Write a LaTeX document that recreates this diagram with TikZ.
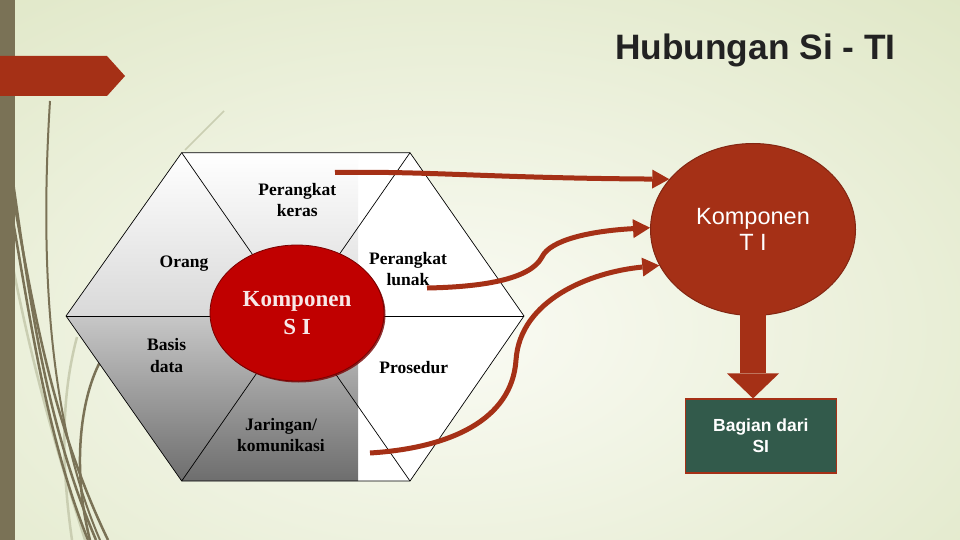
\documentclass[tikz,border=0pt]{standalone}
\usepackage{fontspec}
\setmainfont{Liberation Serif}
\setsansfont{Liberation Sans}
\usetikzlibrary{shapes.geometric,arrows.meta,shadows}
\definecolor{bgin}{RGB}{250,251,244}
\definecolor{bgout}{RGB}{222,230,196}
\definecolor{barbrown}{RGB}{122,114,86}
\definecolor{rust}{RGB}{165,48,22}
\definecolor{rustdark}{RGB}{130,38,18}
\definecolor{sired}{RGB}{192,0,0}
\definecolor{sidark}{RGB}{120,0,0}
\definecolor{sitext}{RGB}{247,232,232}
\definecolor{boxgreen}{RGB}{50,90,75}
\definecolor{titlegray}{RGB}{34,34,34}
\definecolor{lightstrand}{RGB}{202,206,178}
\begin{document}
\begin{tikzpicture}[x=1pt,y=-1pt,
  hexlabel/.style={font=\fontsize{17.5}{21.5}\selectfont\bfseries, align=center, anchor=base, inner sep=0pt},
  hexline/.style={draw=black, line width=0.7pt},
  connector/.style={draw=rust, line width=5pt, -{Triangle[length=17pt,width=19pt,line width=0pt]}},
  strand/.style={draw=barbrown, line width=2.5pt},
  lstrand/.style={draw=lightstrand, line width=2.5pt}]
\useasboundingbox (0,0) rectangle (960,540);
% background
\fill[bgout] (0,0) rectangle (960,540);
\begin{scope}
  \clip (0,0) rectangle (960,540);
  \shade[inner color=bgin, outer color=bgout] (-350,-150) rectangle (1250,810);
\end{scope}
% decorative strands
\draw[lstrand] (12,262) .. controls (35,380) and (60,460) .. (85,540);
\draw[lstrand] (77,337) .. controls (60,400) and (62,470) .. (72,540);
\draw[lightstrand, line width=1.5pt] (185,150) -- (224,111);
\draw[barbrown, line width=2pt] (50,101) .. controls (40,260) and (48,420) .. (100,540);
\draw[strand] (12,175) .. controls (30,300) and (45,420) .. (96,540);
\draw[strand] (12,190) .. controls (35,320) and (55,430) .. (108,540);
\draw[strand] (12,215) .. controls (32,330) and (48,440) .. (88,540);
\draw[strand] (100,362) .. controls (80,400) and (72,470) .. (90,540);
% left bar and banner
\fill[barbrown] (0,0) rectangle (15,540);
\fill[rust] (0,56) -- (107,56) -- (125,76) -- (107,96) -- (0,96) -- cycle;
% title
\node[font=\sffamily\bfseries\fontsize{35.3}{40}\selectfont, text=titlegray, anchor=base west, inner sep=0pt] (title) at (615,60) {Hubungan Si - TI};
% hexagon
\coordinate (hTL) at (181.7,152.7);
\coordinate (hTR) at (410,152.7);
\coordinate (hR) at (524,316);
\coordinate (hBR) at (410,481);
\coordinate (hBL) at (181.7,481);
\coordinate (hL) at (66,316);
\begin{scope}
  \clip (hTL) -- (hTR) -- (hR) -- (hBR) -- (hBL) -- (hL) -- cycle;
  \fill[white] (60,150) rectangle (530,485);
  \shade[top color=white, bottom color=black!15] (60,152.7) rectangle (358,316);
  \shade[top color=black!22, bottom color=black!57] (60,316) rectangle (358,481);
\end{scope}
\draw[hexline] (hTL) -- (hTR) -- (hR) -- (hBR) -- (hBL) -- (hL) -- cycle;
\draw[hexline] (hL) -- (hR);
\draw[hexline] (hTL) -- (hBR);
\draw[hexline] (hTR) -- (hBL);
% hexagon labels (base anchor = baseline of the last line)
\node[hexlabel] (hk) at (297.3,216.5) {Perangkat\\keras};
\node[hexlabel] (or) at (184,267.7) {Orang};
\node[hexlabel] (pl) at (408,285.8) {Perangkat\\lunak};
\node[hexlabel] (bd) at (166.7,372.2) {Basis\\data};
\node[hexlabel] (pr) at (413.7,373.3) {Prosedur};
\node[hexlabel] (jk) at (281,451.5) {Jaringan/\\komunikasi};
% central ellipse
\node[ellipse, fill=sired, draw=sidark, line width=0.8pt, minimum width=174pt, minimum height=136pt, inner sep=0pt,
      text=sitext, font=\fontsize{23}{28}\selectfont\bfseries, align=center,
      drop shadow={shadow xshift=1.5pt, shadow yshift=-1.5pt, fill=sidark, opacity=0.8}] (si) at (297,313) {Komponen\\S I};
% TI ellipse
\node[ellipse, fill=rust, draw=rustdark, line width=1pt, minimum width=205pt, minimum height=172pt, inner sep=0pt,
      text=white, font=\sffamily\fontsize{23.5}{26.7}\selectfont, align=center] (ti) at (753,229.5) {Komponen\\T I};
% green box
\node[draw=rust, line width=1.5pt, fill=boxgreen, minimum width=151pt, minimum height=74pt, inner sep=0pt,
      text=white, font=\sffamily\bfseries\fontsize{17.5}{21}\selectfont, align=center] (box) at (760.8,436.2) {Bagian dari\\SI};
% down arrow
\draw[rust, line width=26pt, shorten <=-2pt, -{Triangle[length=25pt,width=52pt,line width=0pt]}] (ti.south) -- (ti.south |- box.north);
% connectors
\coordinate (c1) at (335,172.5);
\coordinate (c2) at (427,288);
\coordinate (c3) at (370,453);
\draw[connector] (c1) .. controls (430,171) and (490,178) .. (ti.149);
\draw[connector] (c2) .. controls (480,287) and (530,280) .. (542,257) .. controls (550,240) and (590,231) .. (ti.179);
\draw[connector] (c3) .. controls (450,448) and (512,420) .. (516,360) .. controls (520,300) and (590,272) .. (ti.201);
\end{tikzpicture}
\end{document}
